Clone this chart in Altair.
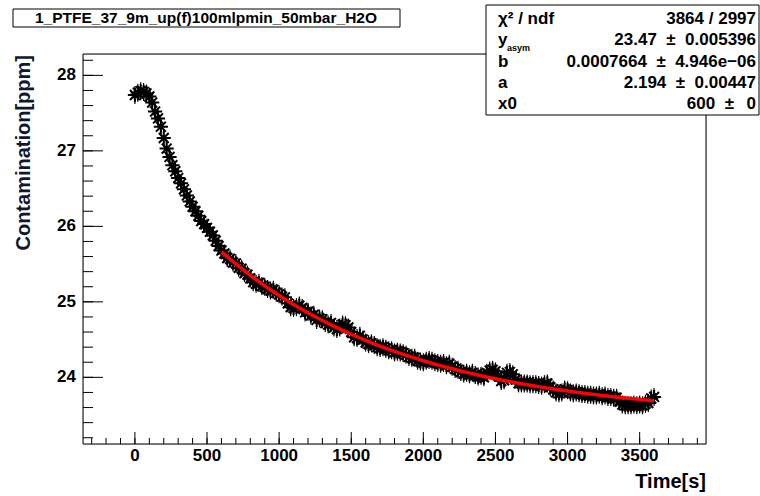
import altair as alt
import pandas as pd

# ---------------- data ----------------
time_s = [
    0, 20, 40, 60, 80, 100, 120, 140, 160, 180,
    200, 220, 240, 260, 280, 300, 320, 340, 360, 380,
    400, 420, 440, 460, 480, 500, 520, 540, 560, 580,
    600, 620, 640, 660, 680, 700, 720, 740, 760, 780,
    800, 820, 840, 860, 880, 900, 920, 940, 960, 980,
    1000, 1020, 1040, 1060, 1080, 1100, 1120, 1140, 1160, 1180,
    1200, 1220, 1240, 1260, 1280, 1300, 1320, 1340, 1360, 1380,
    1400, 1420, 1440, 1460, 1480, 1500, 1520, 1540, 1560, 1580,
    1600, 1620, 1640, 1660, 1680, 1700, 1720, 1740, 1760, 1780,
    1800, 1820, 1840, 1860, 1880, 1900, 1920, 1940, 1960, 1980,
    2000, 2020, 2040, 2060, 2080, 2100, 2120, 2140, 2160, 2180,
    2200, 2220, 2240, 2260, 2280, 2300, 2320, 2340, 2360, 2380,
    2400, 2420, 2440, 2460, 2480, 2500, 2520, 2540, 2560, 2580,
    2600, 2620, 2640, 2660, 2680, 2700, 2720, 2740, 2760, 2780,
    2800, 2820, 2840, 2860, 2880, 2900, 2920, 2940, 2960, 2980,
    3000, 3020, 3040, 3060, 3080, 3100, 3120, 3140, 3160, 3180,
    3200, 3220, 3240, 3260, 3280, 3300, 3320, 3340, 3360, 3380,
    3400, 3420, 3440, 3460, 3480, 3500, 3520, 3540, 3560, 3580,
    3600,
]
contamination_ppm = [
    27.74, 27.77, 27.79, 27.78, 27.76, 27.72, 27.64, 27.52, 27.43, 27.32,
    27.17, 27.03, 26.92, 26.81, 26.73, 26.64, 26.57, 26.49, 26.41, 26.33,
    26.26, 26.20, 26.14, 26.07, 26.03, 25.98, 25.93, 25.88, 25.81, 25.74,
    25.68, 25.64, 25.58, 25.57, 25.52, 25.51, 25.45, 25.44, 25.38, 25.36,
    25.31, 25.26, 25.24, 25.25, 25.21, 25.20, 25.17, 25.15, 25.16, 25.12,
    25.10, 25.07, 25.06, 24.98, 24.93, 24.92, 24.93, 24.95, 24.92, 24.86,
    24.87, 24.82, 24.83, 24.76, 24.78, 24.77, 24.72, 24.70, 24.72, 24.66,
    24.64, 24.66, 24.70, 24.69, 24.66, 24.60, 24.53, 24.52, 24.55, 24.50,
    24.46, 24.44, 24.45, 24.43, 24.40, 24.39, 24.40, 24.38, 24.36, 24.36,
    24.33, 24.34, 24.33, 24.32, 24.30, 24.27, 24.26, 24.26, 24.22, 24.21,
    24.20, 24.22, 24.23, 24.22, 24.20, 24.19, 24.18, 24.19, 24.16, 24.18,
    24.14, 24.11, 24.10, 24.07, 24.05, 24.06, 24.04, 24.06, 24.03, 24.01,
    24.02, 24.00, 24.06, 24.09, 24.10, 24.08, 24.02, 23.95, 23.96, 24.06,
    24.07, 24.04, 23.97, 23.92, 23.92, 23.92, 23.92, 23.91, 23.91, 23.91,
    23.90, 23.89, 23.91, 23.92, 23.87, 23.84, 23.80, 23.79, 23.80, 23.84,
    23.83, 23.80, 23.79, 23.80, 23.79, 23.78, 23.78, 23.77, 23.77, 23.76,
    23.76, 23.77, 23.75, 23.76, 23.74, 23.74, 23.73, 23.73, 23.68, 23.64,
    23.63, 23.63, 23.63, 23.64, 23.63, 23.64, 23.63, 23.65, 23.66, 23.72,
    23.74,
]

fit_time_s = [600, 700, 800, 900, 1000, 1100, 1200, 1300, 1400, 1500, 1600,
              1700, 1800, 1900, 2000, 2100, 2200, 2300, 2400, 2500, 2600,
              2700, 2800, 2900, 3000, 3100, 3200, 3300, 3400, 3500, 3600]
fit_ppm = [25.664, 25.502, 25.352, 25.213, 25.085, 24.966, 24.855, 24.753,
           24.659, 24.571, 24.490, 24.414, 24.345, 24.280, 24.220, 24.165,
           24.114, 24.066, 24.022, 23.981, 23.944, 23.909, 23.877, 23.846,
           23.819, 23.793, 23.769, 23.747, 23.727, 23.708, 23.690]

x_major_ticks = [0, 500, 1000, 1500, 2000, 2500, 3000, 3500]
x_minor_ticks = [-300, -200, -100, 0, 100, 200, 300, 400, 500, 600, 700, 800,
                 900, 1000, 1100, 1200, 1300, 1400, 1500, 1600, 1700, 1800,
                 1900, 2000, 2100, 2200, 2300, 2400, 2500, 2600, 2700, 2800,
                 2900, 3000, 3100, 3200, 3300, 3400, 3500, 3600, 3700, 3800,
                 3900]
y_major_ticks = [24, 25, 26, 27, 28]
y_minor_ticks = [23.2, 23.4, 23.6, 23.8, 24.0, 24.2, 24.4, 24.6, 24.8, 25.0,
                 25.2, 25.4, 25.6, 25.8, 26.0, 26.2, 26.4, 26.6, 26.8, 27.0,
                 27.2, 27.4, 27.6, 27.8, 28.0, 28.2]

title_text = "1_PTFE_37_9m_up(f)100mlpmin_50mbar_H2O"
x_title = "Time[s]"
y_title = "Contamination[ppm]"
NB = "\u00a0"
PM = NB + NB + "±" + NB + NB
stat_labels = ["χ² / ndf", "y", "b", "a", "x0"]
stat_values = ["3864 / 2997",
               "23.47" + PM + "0.005396",
               "0.0007664" + PM + "4.946e−06",
               "2.194" + PM + "0.00447",
               "600" + NB + NB + "±"]

# ---------------- layout ----------------
W, H = 623, 390
L, T = 83, 54
FONT = "Liberation Sans"

xs = alt.Scale(domain=[-360, 3960], nice=False, zero=False)
ys = alt.Scale(domain=[23.117, 28.283], nice=False, zero=False)

df = pd.DataFrame({"t": time_s, "c": contamination_ppm})
df_fit = pd.DataFrame({"t": fit_time_s, "c": fit_ppm})
one = pd.DataFrame({"d": [0]})

frame = alt.Chart(one).mark_rect(fillOpacity=0, stroke="black", strokeWidth=1).encode(
    x=alt.value(0), x2=alt.value(W), y=alt.value(0), y2=alt.value(H))

xminor = alt.Chart(pd.DataFrame({"v": x_minor_ticks})).mark_rule(color="black", strokeWidth=1).encode(
    x=alt.X("v:Q", scale=xs, axis=None), y=alt.value(H), y2=alt.value(H - 6))
xmajor = alt.Chart(pd.DataFrame({"v": x_major_ticks})).mark_rule(color="black", strokeWidth=1).encode(
    x=alt.X("v:Q", scale=xs, axis=None), y=alt.value(H), y2=alt.value(H - 12))
yminor = alt.Chart(pd.DataFrame({"v": y_minor_ticks})).mark_rule(color="black", strokeWidth=1).encode(
    y=alt.Y("v:Q", scale=ys, axis=None), x=alt.value(0), x2=alt.value(10))
ymajor = alt.Chart(pd.DataFrame({"v": y_major_ticks})).mark_rule(color="black", strokeWidth=1).encode(
    y=alt.Y("v:Q", scale=ys, axis=None), x=alt.value(0), x2=alt.value(20))

xlabels = alt.Chart(pd.DataFrame({"v": x_major_ticks})).mark_text(
    font=FONT, fontWeight="bold", fontSize=17, color="black", align="center", baseline="middle").encode(
    x=alt.X("v:Q", scale=xs, axis=None), y=alt.value(H + 12), text=alt.Text("v:Q", format="d"))
ylabels = alt.Chart(pd.DataFrame({"v": y_major_ticks})).mark_text(
    font=FONT, fontWeight="bold", fontSize=17, color="black", align="right", baseline="middle").encode(
    y=alt.Y("v:Q", scale=ys, axis=None), x=alt.value(-7), text=alt.Text("v:Q", format="d"))

# vertical error bars drawn as a vertical-line symbol
errbars = alt.Chart(df).mark_point(shape="M0,-1L0,1", filled=False, stroke="black",
                                   strokeWidth=1.2, size=324, opacity=1).encode(
    x=alt.X("t:Q", scale=xs, axis=None),
    y=alt.Y("c:Q", scale=ys, axis=None))

asterisk = "M-1,0L1,0M0,-1L0,1M-0.7,-0.7L0.7,0.7M-0.7,0.7L0.7,-0.7"
points = alt.Chart(df).mark_point(shape=asterisk, filled=False, stroke="black",
                                  strokeWidth=2, size=200, opacity=1).encode(
    x=alt.X("t:Q", scale=xs, axis=None),
    y=alt.Y("c:Q", scale=ys, axis=None))

fit = alt.Chart(df_fit).mark_line(color="#ff0000", strokeWidth=3.5, interpolate="monotone").encode(
    x=alt.X("t:Q", scale=xs, axis=None),
    y=alt.Y("c:Q", scale=ys, axis=None))

# title box
title_box = alt.Chart(one).mark_rect(fill="white", stroke="black", strokeWidth=1).encode(
    x=alt.value(13 - L), x2=alt.value(400 - L), y=alt.value(9 - T), y2=alt.value(27 - T))
title_lbl = alt.Chart(pd.DataFrame({"s": [title_text]})).mark_text(
    font=FONT, fontWeight="bold", fontSize=15.5, color="black", align="center", baseline="middle").encode(
    text="s:N", x=alt.value(206 - L), y=alt.value(18 - T))

# stats box
stat_box = alt.Chart(one).mark_rect(fill="white", stroke="black", strokeWidth=1).encode(
    x=alt.value(486 - L), x2=alt.value(759 - L), y=alt.value(5 - T), y2=alt.value(115 - T))
row_y = [19, 40, 62, 83, 104]
stat_layers = []
for i, (lab, val, ry) in enumerate(zip(stat_labels, stat_values, row_y)):
    stat_layers.append(alt.Chart(pd.DataFrame({"s": [lab]})).mark_text(
        font=FONT, fontWeight="bold", fontSize=17, color="black", align="left", baseline="middle").encode(
        text="s:N", x=alt.value(498 - L), y=alt.value(ry - T)))
    xr = 756 if i < 4 else 734
    stat_layers.append(alt.Chart(pd.DataFrame({"s": [val]})).mark_text(
        font=FONT, fontWeight="bold", fontSize=17, color="black", align="right", baseline="middle").encode(
        text="s:N", x=alt.value(xr - L), y=alt.value(ry - T)))
stat_layers.append(alt.Chart(pd.DataFrame({"s": ["asym"]})).mark_text(
    font=FONT, fontWeight="bold", fontSize=9, color="black", align="left", baseline="middle").encode(
    text="s:N", x=alt.value(507 - L), y=alt.value(48 - T)))
stat_layers.append(alt.Chart(pd.DataFrame({"s": ["0"]})).mark_text(
    font=FONT, fontWeight="bold", fontSize=17, color="black", align="right", baseline="middle").encode(
    text="s:N", x=alt.value(756 - L), y=alt.value(104 - T)))

xt = alt.Chart(pd.DataFrame({"s": [x_title]})).mark_text(
    font=FONT, fontWeight="bold", fontSize=20, color="black", align="right", baseline="middle").encode(
    text="s:N", x=alt.value(706 - L), y=alt.value(482 - T))
yt = alt.Chart(pd.DataFrame({"s": [y_title]})).mark_text(
    font=FONT, fontWeight="bold", fontSize=20, color="#101830", align="right", baseline="middle", angle=270).encode(
    text="s:N", x=alt.value(24 - L), y=alt.value(55 - T))

chart = alt.layer(
    frame, xminor, xmajor, yminor, ymajor, xlabels, ylabels, errbars, points, fit,
    title_box, title_lbl, stat_box, *stat_layers, xt, yt
).properties(
    width=W, height=H,
    autosize=alt.AutoSizeParams(type="none"),
    padding={"left": L, "top": T, "right": 760 - L - W, "bottom": 496 - T - H},
    background="white",
).configure_view(stroke=None).configure(font=FONT)

chart.save("out.html", embed_options={"renderer": "svg", "actions": False})
